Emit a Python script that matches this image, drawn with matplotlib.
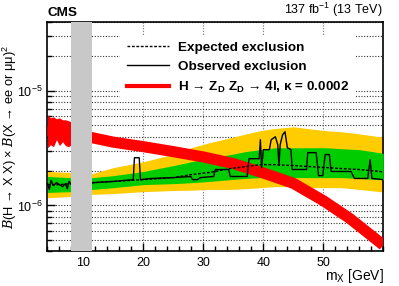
import numpy as np
import matplotlib
matplotlib.use("Agg")
import matplotlib.pyplot as plt
from matplotlib.lines import Line2D
from matplotlib.ticker import LogLocator, MultipleLocator, NullFormatter

plt.rcParams['font.family'] = ['Liberation Sans', 'DejaVu Sans']
plt.rcParams['mathtext.fontset'] = 'custom'
plt.rcParams['mathtext.rm'] = 'Liberation Sans'
plt.rcParams['mathtext.it'] = 'Liberation Sans:italic'
plt.rcParams['mathtext.bf'] = 'Liberation Sans:bold'
plt.rcParams['mathtext.cal'] = 'DejaVu Serif:italic'

# --- data ---
# expected limit and bands (mass in GeV)
m_exp = [4, 6, 8, 11.5, 15, 20, 25, 28, 31, 34.5, 37, 39.5, 42, 45, 48, 50.6, 53, 56, 59.4, 60]
exp_med = [1.52e-6, 1.52e-6, 1.55e-6, 1.58e-6, 1.62e-6, 1.68e-6, 1.75e-6, 1.86e-6, 1.94e-6, 2.10e-6,
           2.18e-6, 2.27e-6, 2.27e-6, 2.23e-6, 2.18e-6, 2.14e-6, 2.10e-6, 2.06e-6, 1.98e-6, 1.96e-6]
g_up = [1.79e-6, 1.77e-6, 1.75e-6, 1.75e-6, 1.82e-6, 1.98e-6, 2.23e-6, 2.41e-6, 2.61e-6, 2.78e-6,
        2.95e-6, 3.07e-6, 3.19e-6, 3.19e-6, 3.19e-6, 3.19e-6, 3.13e-6, 3.07e-6, 2.89e-6, 2.84e-6]
g_dn = [1.30e-6, 1.31e-6, 1.32e-6, 1.38e-6, 1.43e-6, 1.52e-6, 1.55e-6, 1.58e-6, 1.62e-6, 1.68e-6,
        1.72e-6, 1.75e-6, 1.75e-6, 1.75e-6, 1.75e-6, 1.75e-6, 1.75e-6, 1.72e-6, 1.68e-6, 1.68e-6]
y_up = [1.98e-6, 1.96e-6, 1.94e-6, 1.90e-6, 2.14e-6, 2.41e-6, 2.80e-6, 3.20e-6, 3.53e-6, 3.90e-6,
        4.20e-6, 4.50e-6, 4.70e-6, 4.86e-6, 4.65e-6, 4.49e-6, 4.40e-6, 4.22e-6, 3.98e-6, 3.98e-6]
y_dn = [1.17e-6, 1.18e-6, 1.20e-6, 1.25e-6, 1.27e-6, 1.32e-6, 1.35e-6, 1.36e-6, 1.38e-6, 1.38e-6,
        1.40e-6, 1.43e-6, 1.46e-6, 1.46e-6, 1.43e-6, 1.43e-6, 1.43e-6, 1.38e-6, 1.32e-6, 1.32e-6]

# observed limit
m_obs = [4.0, 4.3, 4.6, 5.0, 5.5, 6.0, 6.5, 7.0, 7.3, 7.6, 8.0, 11.5, 15.0, 18.3, 18.5, 19.3, 19.5,
         21.2, 25.0, 27.9, 28.2, 29.0, 29.5, 31.7, 32.0, 34.2, 34.5, 37.3, 37.6, 39.3, 39.5, 39.7,
         40.0, 41.0, 41.3, 42.0, 42.4, 42.6, 42.8, 43.2, 43.6, 44.0, 44.6, 44.8, 47.2, 47.4, 48.8,
         49.2, 49.9, 50.3, 51.0, 51.3, 54.6, 55.2, 57.4, 57.8, 58.1, 60.0]
obs = [1.55e-6, 1.38e-6, 1.65e-6, 1.49e-6, 1.58e-6, 1.52e-6, 1.46e-6, 1.55e-6, 1.40e-6, 1.62e-6,
       1.52e-6, 1.58e-6, 1.62e-6, 1.68e-6, 2.61e-6, 2.61e-6, 1.68e-6, 1.72e-6, 1.75e-6, 1.79e-6,
       1.68e-6, 1.68e-6, 1.75e-6, 1.79e-6, 2.06e-6, 2.06e-6, 1.79e-6, 1.79e-6, 2.56e-6, 2.56e-6,
       3.75e-6, 2.14e-6, 3.07e-6, 3.07e-6, 3.75e-6, 3.98e-6, 3.39e-6, 2.23e-6, 3.39e-6, 4.14e-6,
       4.40e-6, 3.19e-6, 3.07e-6, 2.06e-6, 2.06e-6, 2.89e-6, 2.89e-6, 1.82e-6, 1.82e-6, 2.78e-6,
       2.78e-6, 1.98e-6, 1.98e-6, 1.72e-6, 1.72e-6, 2.51e-6, 1.72e-6, 1.68e-6]

# theory curve H -> ZD ZD -> 4l, kappa = 0.0002
m_th = [4, 6, 8, 11.5, 15, 20, 25, 30, 35, 40, 45, 50, 54.4, 58.3, 60]
th = [4.5e-6, 4.5e-6, 4.3e-6, 3.9e-6, 3.57e-6, 3.26e-6, 2.95e-6, 2.65e-6, 2.32e-6, 1.92e-6,
      1.56e-6, 1.10e-6, 7.7e-7, 5.3e-7, 4.5e-7]
# ragged low-mass part of the theory band
m_th_lo = [4.0, 4.5, 5.0, 5.5, 6.0, 6.5, 7.0, 7.5, 8.0]
th_lo_up = [6.18e-6, 5.82e-6, 5.94e-6, 5.71e-6, 5.82e-6, 5.60e-6, 5.60e-6, 5.49e-6, 5.38e-6]
th_lo_dn = [3.19e-6, 3.39e-6, 3.26e-6, 3.75e-6, 3.33e-6, 3.60e-6, 3.33e-6, 3.26e-6, 3.39e-6]

veto = (8.0, 11.5)  # excluded mass window
x_labeled = [10, 20, 30, 40, 50]

fig = plt.figure(figsize=(3.99, 2.86), dpi=100)
ax = fig.add_axes([0.119, 0.1224, 0.8417, 0.8006])

ax.fill_between(m_exp, y_dn, y_up, color='#ffcc00', lw=0, zorder=2)
ax.fill_between(m_exp, g_dn, g_up, color='#00cc00', lw=0, zorder=3)
ax.fill_between(m_th_lo, th_lo_dn, th_lo_up, color='red', lw=0, zorder=4)
ax.plot(m_th, th, color='red', lw=8.0, solid_capstyle='butt', zorder=4)
ax.plot(m_exp, exp_med, color='black', lw=1.0, ls=(0, (2, 1.2)), zorder=5)
ax.plot(m_obs, obs, color='black', lw=1.0, zorder=6)
ax.axvspan(veto[0], veto[1], color='#c8c8c8', lw=0, zorder=7)

ax.set_xlim(4, 60)
ax.set_ylim(4e-7, 4e-5)
ax.set_yscale('log')
ax.set_xticks(x_labeled)
ax.xaxis.set_minor_locator(MultipleLocator(2))
ax.yaxis.set_minor_locator(LogLocator(base=10, subs=np.arange(2, 10)))
ax.yaxis.set_minor_formatter(NullFormatter())
ax.tick_params(which='both', direction='in', labelsize=9, top=False, right=False)
ax.tick_params(which='major', length=6, width=1)
ax.tick_params(which='minor', length=3.5, width=1)
ax.tick_params(axis='x', pad=4)

ax.set_axisbelow(True)
ax.grid(True, axis='x', which='major', ls=(0, (1, 1.5)), color='0.45', lw=0.8)
ax.grid(True, axis='y', which='both', ls=(0, (1, 1.5)), color='0.2', lw=0.8)
for s in ax.spines.values():
    s.set_linewidth(1.2)

ax.set_xlabel(r'm$_{\mathregular{X}}$ [GeV]', fontsize=10, loc='right', labelpad=-1)
ax.set_ylabel('$\\mathcal{B}$(H \u2192 X X) \u00d7 $\\mathcal{B}$(X \u2192 ee or \u03bc\u03bc)$^{\\mathregular{2}}$',
              fontsize=9.3)
ax.yaxis.set_label_coords(-0.085, 0.5)

fig.text(0.12, 0.935, 'CMS', fontsize=9.7, fontweight='bold', ha='left', va='bottom')
fig.text(0.96, 0.935, r'137 fb$^{\mathregular{-1}}$ (13 TeV)', fontsize=9, ha='right', va='bottom')

handles = [Line2D([], [], color='black', lw=1.0, ls=(0, (2, 1.2))),
           Line2D([], [], color='black', lw=1.0),
           Line2D([], [], color='red', lw=3)]
labels = ['Expected exclusion', 'Observed exclusion',
          'H \u2192 Z$_{\\mathbf{D}}$ Z$_{\\mathbf{D}}$ \u2192 4l, \u03ba = 0.0002']
leg = ax.legend(handles, labels, loc='upper left', bbox_to_anchor=(0.216, 0.945),
                borderaxespad=0, borderpad=0.5, handlelength=3.1, handletextpad=0.7,
                labelspacing=0.5, frameon=True, fancybox=False, framealpha=1,
                edgecolor='none', facecolor='white', prop={'weight': 'bold', 'size': 9.7})
leg.set_zorder(10)

fig.savefig('out.png', dpi=100)
